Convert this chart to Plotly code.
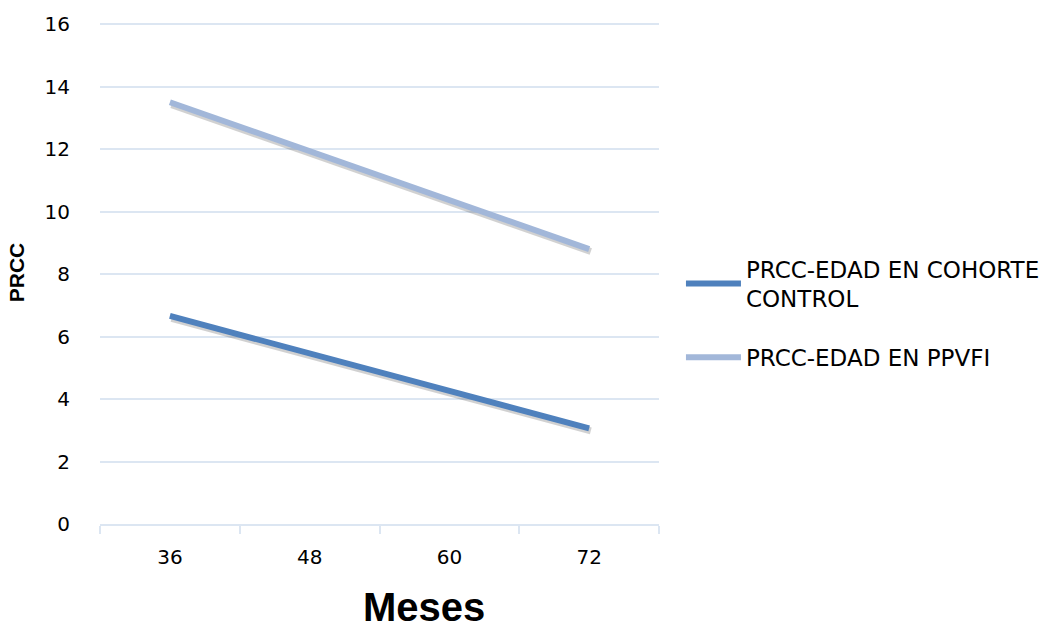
import plotly.graph_objects as go

# Age-related PRCC by month
meses = ["36", "48", "60", "72"]
prcc_control = [6.66, 5.46, 4.26, 3.06]
prcc_ppvfi = [13.5, 11.93, 10.37, 8.8]
y_ticks = [0, 2, 4, 6, 8, 10, 12, 14, 16]

series = [
    ("PRCC-EDAD EN COHORTE<br>CONTROL", prcc_control, "#4F81BD"),
    ("PRCC-EDAD EN PPVFI", prcc_ppvfi, "#A2B7D9"),
]

FONT = "DejaVu Sans"
BOLD = "Liberation Sans"
GRID = "#DCE6F2"
XR = [-0.5, 3.5]
YR = [0, 16.1]

fig = go.Figure()

# base layer on the visible axes (transparent, keeps the main subplot alive)
for name, vals, color in series:
    fig.add_trace(go.Scatter(
        x=meses, y=vals, mode="lines", line=dict(color="rgba(0,0,0,0)", width=1),
        hoverinfo="skip", showlegend=False,
    ))

# soft drop shadow under each line, on an overlay axis pair nudged down-right
for name, vals, color in series:
    fig.add_trace(go.Scatter(
        x=meses, y=vals, mode="lines", xaxis="x2", yaxis="y2",
        line=dict(color="rgba(0,0,0,0.18)", width=7), hoverinfo="skip",
        showlegend=False,
    ))

# the series themselves, on a top overlay with the same ranges as the visible axes
for i, (name, vals, color) in enumerate(series):
    fig.add_trace(go.Scatter(
        x=meses, y=vals, mode="lines", name=name, legendgroup=f"g{i}",
        xaxis="x3", yaxis="y3", line=dict(color=color, width=6),
    ))

fig.update_layout(
    width=1057, height=635,
    margin=dict(l=100, r=397, t=19, b=111),
    paper_bgcolor="white", plot_bgcolor="white",
    font=dict(family=FONT, size=20, color="#000000"),
    xaxis=dict(
        type="category", categoryarray=meses, range=XR,
        showgrid=False, showline=True, linecolor=GRID, linewidth=2,
        ticks="outside", tickson="boundaries", ticklen=8, tickcolor=GRID, tickwidth=2,
        tickfont=dict(family=FONT, size=20), ticklabelstandoff=14,
    ),
    yaxis=dict(
        range=YR, tickvals=y_ticks, showgrid=True, gridcolor=GRID, gridwidth=2,
        zeroline=False, showline=False, ticks="", ticklabelstandoff=29,
        tickfont=dict(family=FONT, size=20),
        title=dict(text="<b>PRCC</b>", font=dict(family=BOLD, size=21), standoff=14),
    ),
    xaxis2=dict(type="category", categoryarray=meses, range=[XR[0] - 0.012, XR[1] - 0.012],
                overlaying="x", visible=False),
    yaxis2=dict(range=[YR[0] + 0.08, YR[1] + 0.08], overlaying="y", visible=False),
    xaxis3=dict(type="category", categoryarray=meses, range=XR, overlaying="x", visible=False),
    yaxis3=dict(range=YR, overlaying="y", visible=False),
    legend=dict(
        x=(682 - 100) / 560, y=(524 - 246) / 505, xanchor="left", yanchor="top",
        font=dict(family=FONT, size=23), traceorder="grouped", tracegroupgap=26,
        itemwidth=55, bgcolor="rgba(0,0,0,0)",
    ),
    showlegend=True,
    annotations=[dict(
        text="<b>Meses</b>", xref="paper", yref="paper",
        x=(425 - 100) / 560, y=(524 - 607) / 505, xanchor="center", yanchor="middle",
        showarrow=False, font=dict(family=BOLD, size=40, color="#000000"),
    )],
)

fig.write_html("out.html")
